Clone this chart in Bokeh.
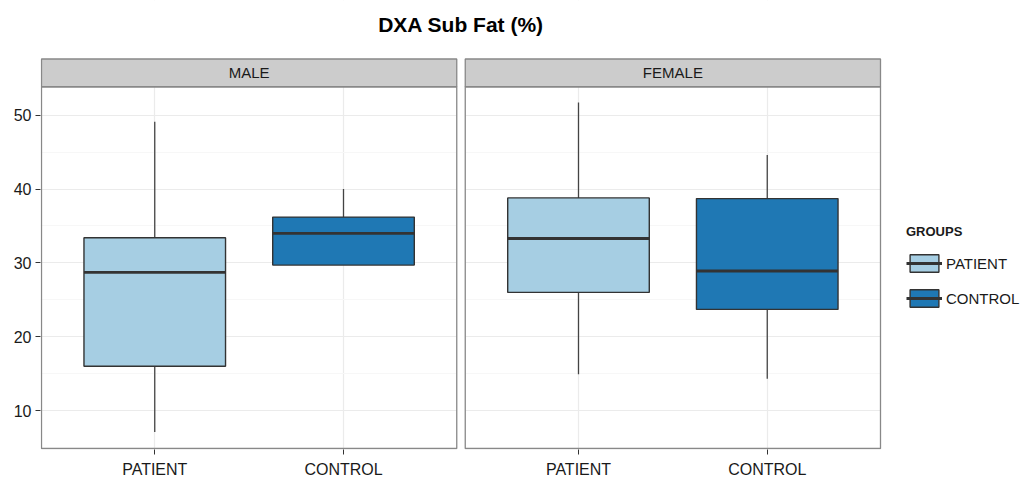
from bokeh.plotting import figure
from bokeh.models import Range1d, FixedTicker, ColumnDataSource, Legend, LegendItem
from bokeh.embed import file_html
from bokeh.resources import INLINE
from bokeh.core.properties import value

# ---------------- data ----------------
title_text = "DXA Sub Fat (%)"
panels = ["MALE", "FEMALE"]
groups = ["PATIENT", "CONTROL"]
panel_col = ["MALE", "MALE", "FEMALE", "FEMALE"]
group_col = ["PATIENT", "CONTROL", "PATIENT", "CONTROL"]
whisker_low = [7.1, 29.7, 14.9, 14.3]
q1 = [16.0, 29.7, 26.0, 23.7]
median = [28.7, 34.0, 33.3, 28.9]
q3 = [33.4, 36.2, 38.8, 38.7]
whisker_high = [49.1, 40.0, 51.7, 44.6]
y_ticks = [10, 20, 30, 40, 50]
y_minor = [15, 25, 35, 45]
group_colors = {"PATIENT": "#A6CEE3", "CONTROL": "#1F78B4"}

# ---------------- layout helpers ----------------
FONT = "Liberation Sans"
W, H = 1021, 480
Y_LO, Y_HI = 4.86, 53.85       # panel value limits
STRIP_HI = 57.61               # top of the facet strip (value units)
GAP = 0.045
PANEL_SPAN = 2.2
PAD = 0.6
BOX_W = 0.75

# pixel targets for the frame
PX_PANEL_L, PX_PANEL_R = 41, 880
PX_STRIP_T, PX_PANEL_B = 59, 452
FRAME_L = 40
FRAME_B = 453


def panel_left(i):
    return i * (PANEL_SPAN + GAP) + 1 - PAD


def xpos(panel, group):
    return panels.index(panel) * (PANEL_SPAN + GAP) + groups.index(group) + 1


x_lo = panel_left(0)
x_hi = panel_left(len(panels) - 1) + PANEL_SPAN
ux = (x_hi - x_lo) / (PX_PANEL_R - PX_PANEL_L)        # units per px
uy = (STRIP_HI - Y_LO) / (PX_PANEL_B - PX_STRIP_T)
xr = Range1d(x_lo - (PX_PANEL_L - FRAME_L) * ux, x_lo + (W - PX_PANEL_L) * ux)
yr = Range1d(Y_LO - (FRAME_B - PX_PANEL_B) * uy, STRIP_HI + PX_STRIP_T * uy)

p = figure(width=W, height=H, output_backend="svg", toolbar_location=None,
           x_range=xr, y_range=yr,
           min_border_left=FRAME_L, min_border_right=0, min_border_top=0,
           min_border_bottom=H - FRAME_B)
p.outline_line_color = None
p.background_fill_color = "white"
p.border_fill_color = "white"

# grids
p.ygrid.ticker = FixedTicker(ticks=y_ticks, minor_ticks=y_minor)
p.ygrid.grid_line_color = "#EBEBEB"
p.ygrid.grid_line_width = 1.2
p.ygrid.minor_grid_line_color = "#F7F7F7"
xt = [xpos(pn, g) for pn in panels for g in groups]
p.xgrid.ticker = FixedTicker(ticks=xt)
p.xgrid.grid_line_color = "#EBEBEB"
p.xgrid.grid_line_width = 1.2

# axes
p.yaxis.ticker = FixedTicker(ticks=y_ticks)
p.yaxis.axis_line_color = None
p.yaxis.major_tick_out = 5
p.yaxis.major_tick_in = 0
p.yaxis.minor_tick_line_color = None
p.yaxis.major_tick_line_color = "#333333"
p.yaxis.major_label_text_font = FONT
p.yaxis.major_label_text_font_size = "16px"
p.yaxis.major_label_text_color = "#1A1A1A"
p.yaxis.major_label_standoff = 4

p.xaxis.ticker = FixedTicker(ticks=xt)
p.xaxis.major_label_overrides = {xpos(pn, g): g for pn in panels for g in groups}
p.xaxis.axis_line_color = None
p.xaxis.major_tick_out = 5
p.xaxis.major_tick_in = 0
p.xaxis.minor_tick_line_color = None
p.xaxis.major_tick_line_color = "#333333"
p.xaxis.major_label_text_font = FONT
p.xaxis.major_label_text_font_size = "16px"
p.xaxis.major_label_text_color = "#1A1A1A"
p.xaxis.major_label_standoff = 6

# white masks: gap between panels, area above strips, legend area
for i in range(len(panels) - 1):
    gl = panel_left(i) + PANEL_SPAN
    p.quad(left=[gl], right=[panel_left(i + 1)], bottom=[yr.start], top=[yr.end],
           fill_color="white", line_color=None)
p.quad(left=[xr.start], right=[xr.end], bottom=[STRIP_HI], top=[yr.end],
       fill_color="white", line_color=None)
p.quad(left=[x_hi], right=[xr.end], bottom=[yr.start], top=[yr.end],
       fill_color="white", line_color=None)

# title
p.text(x=[(x_lo + x_hi) / 2], y=[STRIP_HI + (PX_STRIP_T - 24) * uy], text=[title_text],
       text_align="center", text_baseline="middle", text_font=value(FONT),
       text_font_size="21px", text_font_style="bold", text_color="#000000")

# strips and panel borders
lefts = [panel_left(i) for i in range(len(panels))]
rights = [l + PANEL_SPAN for l in lefts]
p.quad(left=lefts, right=rights, bottom=[Y_HI] * len(panels), top=[STRIP_HI] * len(panels),
       fill_color="#CCCCCC", line_color="#888888", line_width=1.3)
p.quad(left=lefts, right=rights, bottom=[Y_LO] * len(panels), top=[Y_HI] * len(panels),
       fill_color=None, line_color="#888888", line_width=1.3)
p.text(x=[(l + r) / 2 for l, r in zip(lefts, rights)], y=[(Y_HI + STRIP_HI) / 2] * len(panels),
       text=panels, text_align="center", text_baseline="middle",
       text_font=value(FONT), text_font_size="15px", text_color="#1A1A1A")

# boxplots
legend_items = []
for g in groups:
    idx = [i for i, gg in enumerate(group_col) if gg == g]
    src = ColumnDataSource(dict(
        x=[xpos(panel_col[i], g) for i in idx],
        lo=[whisker_low[i] for i in idx], q1=[q1[i] for i in idx],
        med=[median[i] for i in idx], q3=[q3[i] for i in idx],
        hi=[whisker_high[i] for i in idx],
        x0=[xpos(panel_col[i], g) - BOX_W / 2 for i in idx],
        x1=[xpos(panel_col[i], g) + BOX_W / 2 for i in idx],
    ))
    p.segment(x0="x", x1="x", y0="q3", y1="hi", source=src, line_color="#444444", line_width=1.3)
    p.segment(x0="x", x1="x", y0="lo", y1="q1", source=src, line_color="#444444", line_width=1.3)
    rb = p.vbar(x="x", width=BOX_W, bottom="q1", top="q3", source=src,
                fill_color=group_colors[g], line_color="#333333", line_width=1.4)
    rm = p.segment(x0="x0", x1="x1", y0="med", y1="med", source=src,
                   line_color="#333333", line_width=2.8)
    legend_items.append(LegendItem(label=g, renderers=[rb, rm]))

legend = Legend(items=legend_items, title="GROUPS", location=(906 - FRAME_L, FRAME_B - 313),
                padding=0, margin=0, spacing=13, glyph_width=36, glyph_height=22,
                label_height=22, label_standoff=4,
                label_text_font=FONT, label_text_font_size="15px", label_text_color="#1A1A1A",
                title_text_font=FONT, title_text_font_size="13px", title_text_font_style="bold",
                title_text_color="#1A1A1A", title_standoff=13,
                border_line_color=None, background_fill_alpha=0)
p.add_layout(legend)

open("out.html", "w").write(file_html(p, INLINE))
